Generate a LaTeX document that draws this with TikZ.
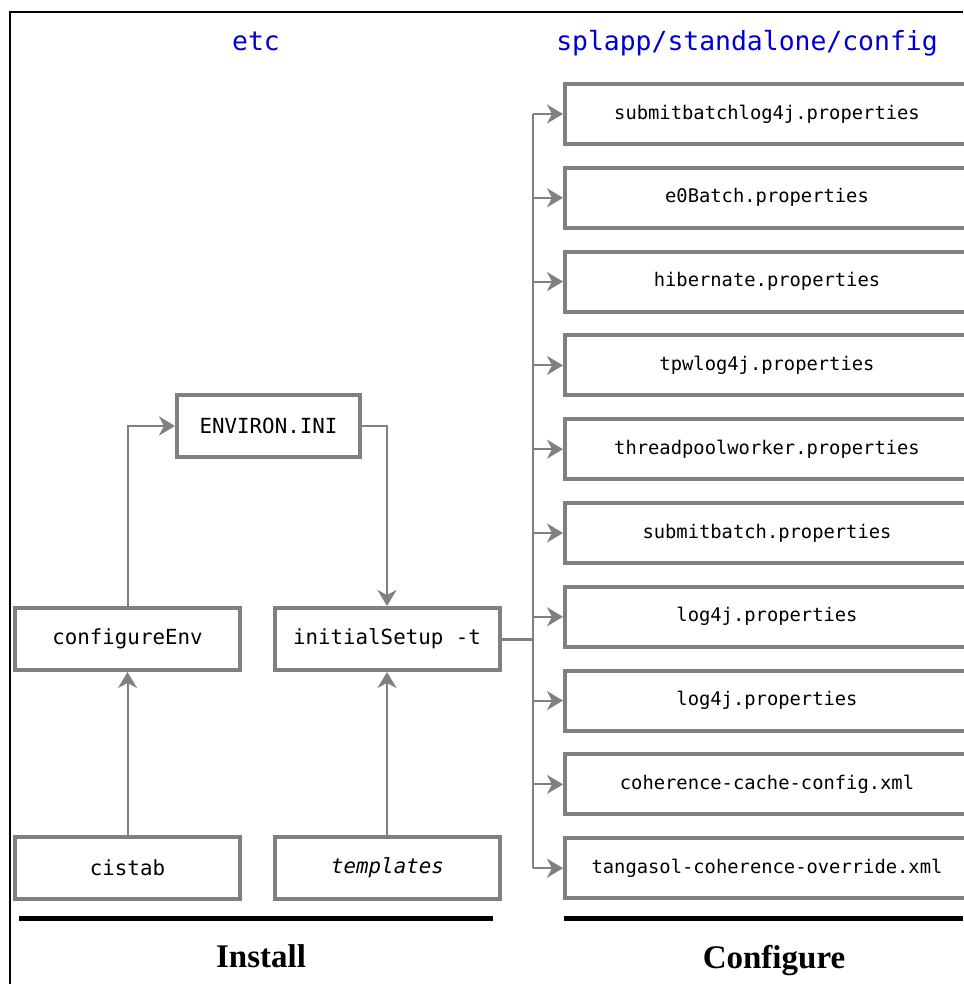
\documentclass[tikz,border=0pt]{standalone}
\usepackage{fontspec}
\setmainfont{Liberation Serif}
\setmonofont{DejaVu Sans Mono}
\usetikzlibrary{arrows.meta}
\definecolor{boxgray}{RGB}{128,128,128}
\definecolor{titleblue}{RGB}{0,0,205}
\begin{document}
\begin{tikzpicture}[x=1pt,y=-1pt,
  lbox/.style={draw=boxgray, line width=4pt, fill=white, minimum width=225pt,
    minimum height=62pt, inner sep=0pt, font=\ttfamily\fontsize{20.8}{24}\selectfont},
  rbox/.style={draw=boxgray, line width=4pt, fill=white, minimum width=404pt,
    minimum height=60pt, inner sep=0pt, font=\ttfamily\fontsize{18.8}{22}\selectfont},
  conn/.style={draw=boxgray, line width=2pt,
    -{Stealth[length=16pt,width=19pt,inset=5pt]}},
  plainline/.style={draw=boxgray, line width=2pt},
  title/.style={anchor=base, text=titleblue, font=\ttfamily\fontsize{26.4}{30}\selectfont},
  phase/.style={anchor=base, font=\bfseries\fontsize{33}{36}\selectfont},
  bar/.style={line width=5pt, black}
]
\useasboundingbox (0,0) rectangle (963,984);
\fill[white] (0,0) rectangle (963,984);

% frame
\draw[line width=2.7pt, black] (10,984) -- (10,12) -- (963,12);

% titles
\node[title] (etc) at (256,51) {etc};
\node[title] (cfgdir) at (747,51) {splapp/standalone/config};

% left nodes
\node[lbox, minimum width=183pt] (env) at (268.5,426) {ENVIRON.INI};
\node[lbox] (cfg) at (127.5,639) {configureEnv};
\node[lbox] (init) at (387,639) {initialSetup -t};
\node[lbox] (cis) at (127.5,867.5) {cistab};
\node[lbox] (tpl) at (387.5,867.5) {\itshape templates};

\draw[conn] (cis.north) -- (cfg.south);
\draw[conn] (tpl.north -| init.south) -- (init.south);
\draw[conn] (cfg.north) |- (env.west);
\draw[conn] (env.east) -| (init.north);

% right nodes
\foreach \t [count=\i] in {submitbatchlog4j.properties, e0Batch.properties,
  hibernate.properties, tpwlog4j.properties, threadpoolworker.properties,
  submitbatch.properties, log4j.properties, log4j.properties,
  coherence-cache-config.xml, tangasol-coherence-override.xml} {
  \pgfmathsetmacro{\yy}{114+83.8*(\i-1)}
  \node[rbox] (r\i) at (767,\yy) {\t};
  \coordinate (t\i) at (533,\yy);
  \draw[conn] (t\i) -- (r\i.west);
}
\draw[plainline] (t1) -- (t10);
\coordinate (tj) at (533,639);
\draw[draw=boxgray, line width=3pt] (init.east) -- (tj);

% bars and phase labels
\draw[bar] (19,918) -- (493,918);
\draw[bar] (564,918) -- (963,918);
\node[phase] (install) at (261,967) {Install};
\node[phase] (configure) at (774,968) {Configure};
\end{tikzpicture}
\end{document}
